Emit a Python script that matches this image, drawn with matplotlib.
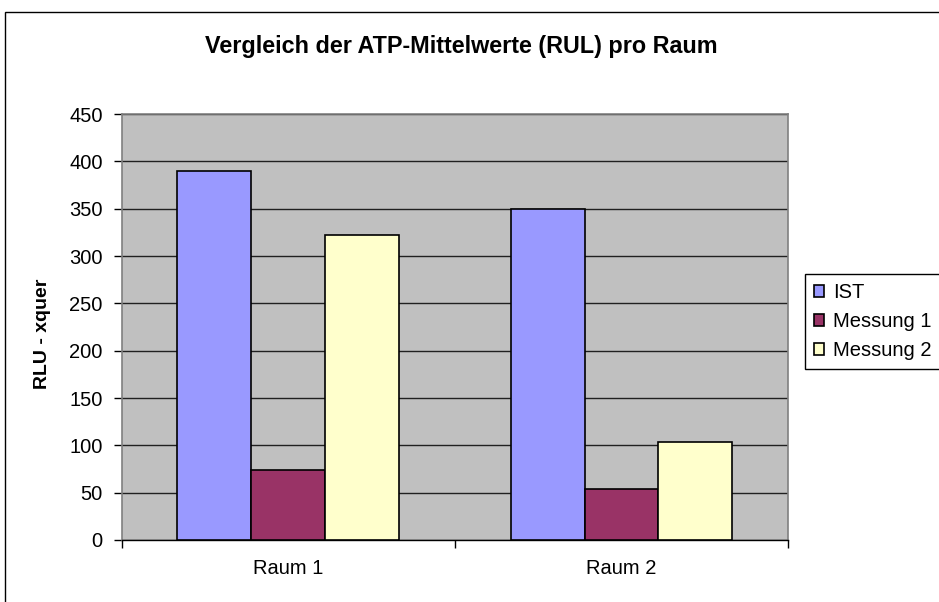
import numpy as np
import matplotlib.pyplot as plt
from matplotlib.patches import Rectangle

plt.rcParams['font.family'] = ['Liberation Sans', 'DejaVu Sans']

raeume = ['Raum 1', 'Raum 2']
ist = [390, 350]
messung1 = [74, 54]
messung2 = [322, 103]
serien = ['IST', 'Messung 1', 'Messung 2']
farben = ['#9999FF', '#993366', '#FFFFCC']

fig = plt.figure(figsize=(9.39, 6.02), dpi=100)
fig.patch.set_facecolor('white')

# outer chart frame (right/bottom run off the picture)
fig.patches.append(Rectangle((0.0053, -0.1), 1.2, 1.08, transform=fig.transFigure,
                             fill=False, edgecolor='black', linewidth=1))

ax = fig.add_axes([0.1299, 0.103, 0.7093, 0.7076])
ax.set_facecolor('#C0C0C0')

x = np.arange(len(raeume))
w = 0.2222
for i, (werte, name, farbe) in enumerate(zip([ist, messung1, messung2], serien, farben)):
    ax.bar(x + (i - 1) * w, werte, width=w, color=farbe, edgecolor='black',
           linewidth=1.2, label=name, zorder=3)

ax.set_xlim(-0.5, 1.5)
ax.set_ylim(0, 450)
ax.set_yticks(np.arange(0, 451, 50))
ax.yaxis.grid(True, color='#202020', linewidth=1)
ax.set_axisbelow(True)

ax.set_xticks([-0.5, 0.5, 1.5])
ax.set_xticklabels([])
ax.set_xticks(x, minor=True)
ax.set_xticklabels(raeume, minor=True, fontsize=14.5)
ax.tick_params(axis='x', which='minor', length=0, pad=14)
ax.tick_params(axis='x', which='major', length=6, width=1, color='black')
ax.tick_params(axis='y', length=6, width=1, color='black', labelsize=14.5, pad=8)

for s in ['left', 'top', 'right']:
    ax.spines[s].set_color('#808080')
    ax.spines[s].set_linewidth(1.2)
ax.spines['bottom'].set_color('black')
ax.spines['bottom'].set_linewidth(1)

ax.set_ylabel('RLU - xquer', fontsize=14, fontweight='bold')
ax.yaxis.set_label_coords(-0.106, 0.484)

fig.text(0.491, 0.922, 'Vergleich der ATP-Mittelwerte (RUL) pro Raum',
         ha='center', va='center', fontsize=16.8, fontweight='bold')

leg = fig.legend(loc='upper left', bbox_to_anchor=(0.857, 0.545), fontsize=14.5,
                 frameon=True, fancybox=False, edgecolor='black', framealpha=1,
                 handlelength=0.5, handleheight=0.5, handletextpad=0.45,
                 borderpad=0.45, labelspacing=0.5, borderaxespad=0)
leg.get_frame().set_linewidth(1)

fig.savefig('out.png', dpi=100)
